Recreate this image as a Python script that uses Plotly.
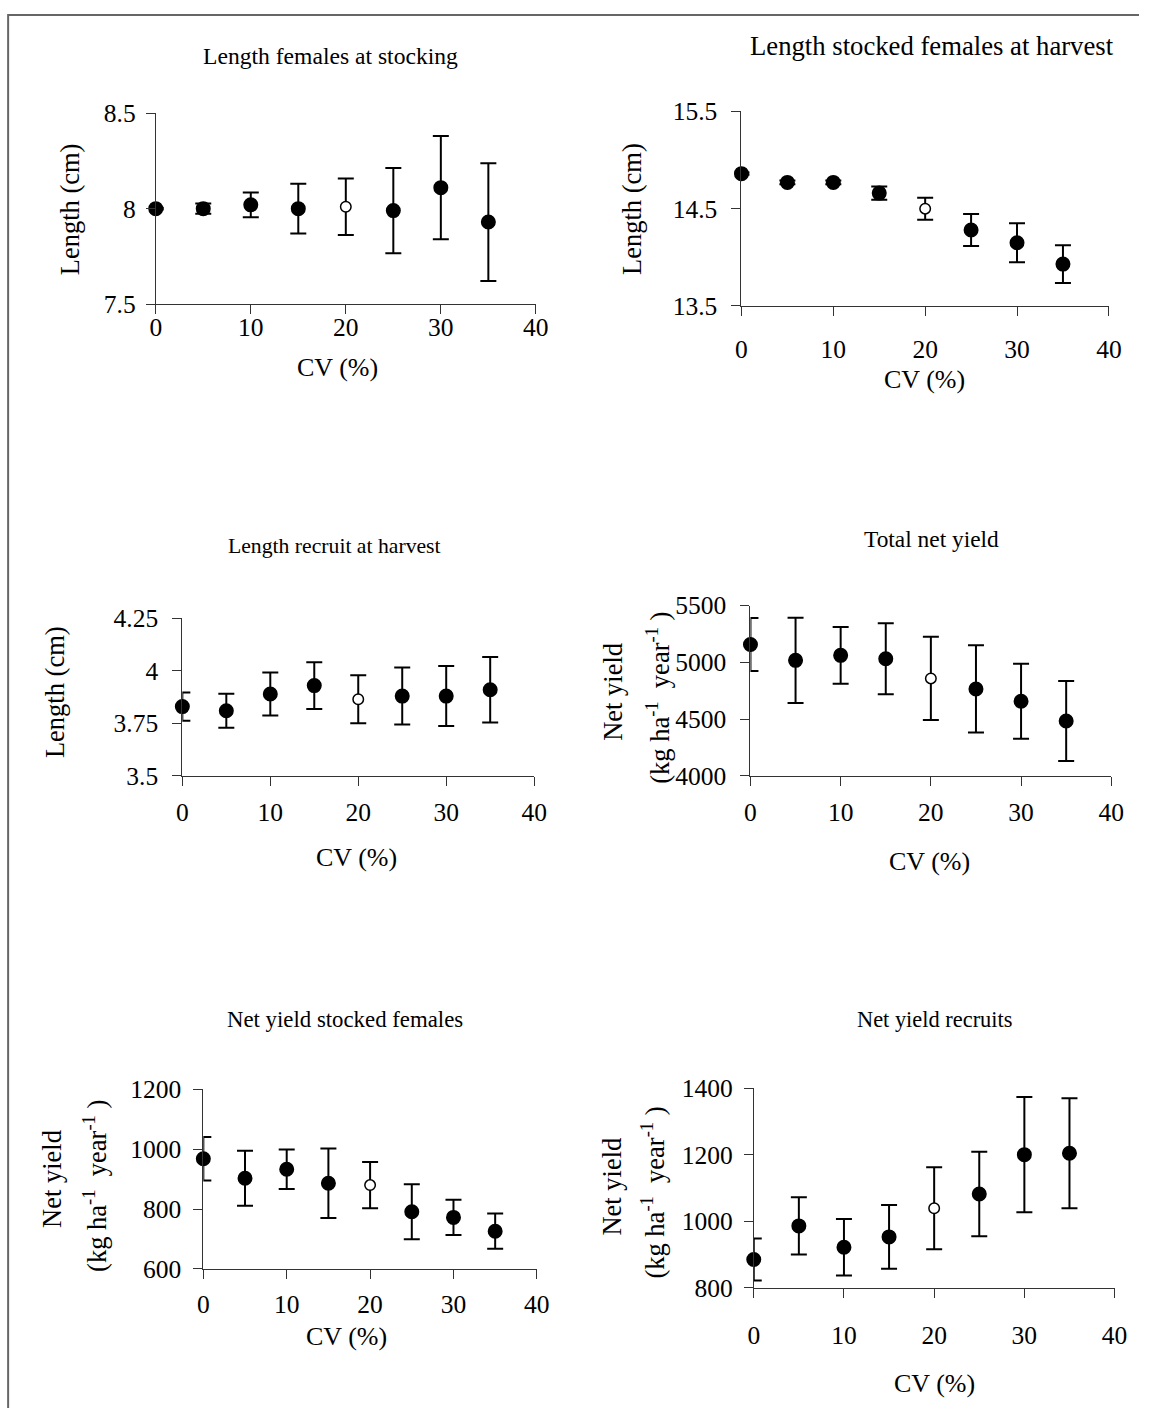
import plotly.graph_objects as go

# Coefficient of variation of stocking size (%)
cv = [0, 5, 10, 15, 20, 25, 30, 35]

# Length of females at stocking (cm), mean and SD
len_stock = [8.00, 8.00, 8.02, 8.00, 8.01, 7.99, 8.11, 7.93]
len_stock_sd = [0.005, 0.027, 0.065, 0.13, 0.148, 0.223, 0.27, 0.308]

# Length of stocked females at harvest (cm)
len_fem_harv = [14.86, 14.77, 14.77, 14.66, 14.50, 14.28, 14.15, 13.93]
len_fem_harv_sd = [0.012, 0.02, 0.02, 0.067, 0.113, 0.164, 0.20, 0.193]

# Length of recruits at harvest (cm)
len_recruit = [3.83, 3.81, 3.89, 3.93, 3.865, 3.88, 3.88, 3.91]
len_recruit_sd = [0.067, 0.081, 0.102, 0.111, 0.114, 0.136, 0.143, 0.156]

# Total net yield (kg/ha/year)
total_yield = [5157, 5017, 5061, 5031, 4858, 4765, 4656, 4483]
total_yield_sd = [233, 375, 250, 312, 366, 384, 330, 353]

# Net yield of stocked females (kg/ha/year)
fem_yield = [968, 903, 933, 886, 880, 791, 772, 726]
fem_yield_sd = [73, 92, 66, 116, 77, 92, 59, 59]

# Net yield of recruits (kg/ha/year)
rec_yield = [885, 986, 922, 953, 1039, 1082, 1200, 1204]
rec_yield_sd = [63, 86, 85, 96, 123, 127, 173, 165]

# Reference scenario drawn with an open marker
ref_cv = 20

titles = ["Length females at stocking", "Length stocked females at harvest",
          "Length recruit at harvest", "Total net yield",
          "Net yield stocked females", "Net yield recruits"]

W, H = 1152, 1423
FONT = "Liberation Serif, Times New Roman, serif"

# Layout positions below are given in sheet pixels; these constants convert
# them into the figure's paper fractions (page offset and sheet scale).
BODY_MARGIN = 8
SX, SY = 0.984, 0.982
OX, OY = -2.0, 4.5


def fx(px):
    return ((px - OX) / SX - BODY_MARGIN) / W


def fy(py):
    return 1 - ((py - OY) / SY - BODY_MARGIN) / H


panels = [
    dict(y=len_stock, e=len_stock_sd, x0=155.7, x1=536.0, yb=303.3, yt=111.7,
         rng=[7.5, 8.5], tv=[7.5, 8, 8.5], tt=["7.5", "8", "8.5"],
         xs=-9, ys=5, title=(331, 54, 23.6), cvlab=(338, 367),
         ylab=[("Length (cm)", 70, 208)]),
    dict(y=len_fem_harv, e=len_fem_harv_sd, x0=741.7, x1=1109.3, yb=305.0, yt=110.0,
         rng=[13.5, 15.5], tv=[13.5, 14.5, 15.5], tt=["13.5", "14.5", "15.5"],
         xs=11, ys=9, title=(932, 44, 26.7), cvlab=(925, 379),
         ylab=[("Length (cm)", 632, 208)]),
    dict(y=len_recruit, e=len_recruit_sd, x0=182.3, x1=534.3, yb=776.0, yt=618.3,
         rng=[3.5, 4.25], tv=[3.5, 3.75, 4, 4.25], tt=["3.5", "3.75", "4", "4.25"],
         xs=5, ys=9, title=(335, 546, 21.7), cvlab=(357, 858),
         ylab=[("Length (cm)", 55, 692)]),
    dict(y=total_yield, e=total_yield_sd, x0=750.7, x1=1111.7, yb=776.0, yt=605.3,
         rng=[4000, 5500], tv=[4000, 4500, 5000, 5500], tt=["4000", "4500", "5000", "5500"],
         xs=5, ys=9, title=(932, 539, 23.4), cvlab=(930, 862),
         ylab=[("Net yield", 613, 692),
               ("(kg ha<sup>-1</sup>  year<sup>-1</sup> )", 658, 698)]),
    dict(y=fem_yield, e=fem_yield_sd, x0=203.3, x1=537.0, yb=1270.3, yt=1090.3,
         rng=[600, 1200], tv=[600, 800, 1000, 1200], tt=["600", "800", "1000", "1200"],
         xs=4, ys=7, title=(345, 1020, 22.8), cvlab=(347, 1338),
         ylab=[("Net yield", 52, 1180),
               ("(kg ha<sup>-1</sup>  year<sup>-1</sup> )", 95, 1187)]),
    dict(y=rec_yield, e=rec_yield_sd, x0=754.0, x1=1115.0, yb=1289.3, yt=1089.0,
         rng=[800, 1400], tv=[800, 1000, 1200, 1400], tt=["800", "1000", "1200", "1400"],
         xs=16, ys=6, title=(935, 1020, 22.4), cvlab=(935, 1385),
         ylab=[("Net yield", 612, 1188),
               ("(kg ha<sup>-1</sup>  year<sup>-1</sup> )", 653, 1194)]),
]

fig = go.Figure()
layout = dict(
    width=W, height=H, margin=dict(l=0, r=0, t=0, b=0),
    paper_bgcolor="white", plot_bgcolor="white", showlegend=False,
    font=dict(family=FONT, size=24, color="black"),
)
annotations = []

for i, p in enumerate(panels):
    k = "" if i == 0 else str(i + 1)
    colors = ["white" if c == ref_cv else "black" for c in cv]
    sizes = [10.5 if c == ref_cv else 13.5 for c in cv]
    fig.add_trace(go.Scatter(
        x=cv, y=p["y"], mode="markers", xaxis="x" + k, yaxis="y" + k,
        cliponaxis=False,
        marker=dict(color=colors, size=sizes, symbol="circle", opacity=1,
                    line=dict(color="black", width=1.5)),
        error_y=dict(type="data", array=p["e"], visible=True,
                     color="black", thickness=2, width=8),
    ))
    axis_common = dict(showgrid=False, zeroline=False, showline=True,
                       linecolor="#333", linewidth=1, ticks="outside",
                       tickcolor="#333", ticklen=9, tickwidth=1,
                       tickfont=dict(family=FONT, size=25.5, color="black"))
    layout["xaxis" + k] = dict(axis_common, domain=[fx(p["x0"]), fx(p["x1"])],
                               anchor="y" + k, range=[0, 40],
                               tickvals=[0, 10, 20, 30, 40],
                               ticklabelstandoff=p["xs"])
    layout["yaxis" + k] = dict(axis_common, domain=[fy(p["yb"]), fy(p["yt"])],
                               anchor="x" + k, range=p["rng"],
                               tickvals=p["tv"], ticktext=p["tt"],
                               ticklabelstandoff=p["ys"])
    tx, ty, ts = p["title"]
    annotations.append(dict(text=titles[i], x=fx(tx), y=fy(ty), xref="paper",
                            yref="paper", showarrow=False, xanchor="center",
                            yanchor="middle", font=dict(family=FONT, size=ts)))
    cx, cy = p["cvlab"]
    annotations.append(dict(text="CV (%)", x=fx(cx), y=fy(cy), xref="paper",
                            yref="paper", showarrow=False, xanchor="center",
                            yanchor="middle", font=dict(family=FONT, size=26)))
    for txt, lx, ly in p["ylab"]:
        annotations.append(dict(text=txt, x=fx(lx), y=fy(ly), xref="paper",
                                yref="paper", showarrow=False, textangle=-90,
                                xanchor="center", yanchor="middle",
                                font=dict(family=FONT, size=26.5)))

layout["annotations"] = annotations
# Outer frame (left and top edges)
layout["shapes"] = [
    dict(type="line", xref="paper", yref="paper", x0=fx(8), x1=fx(8),
         y0=0, y1=1, line=dict(color="#666", width=2)),
    dict(type="line", xref="paper", yref="paper", x0=fx(8), x1=1,
         y0=1 - 1 / H, y1=1 - 1 / H, line=dict(color="#666", width=2)),
]
fig.update_layout(**layout)
fig.write_html("out.html")
